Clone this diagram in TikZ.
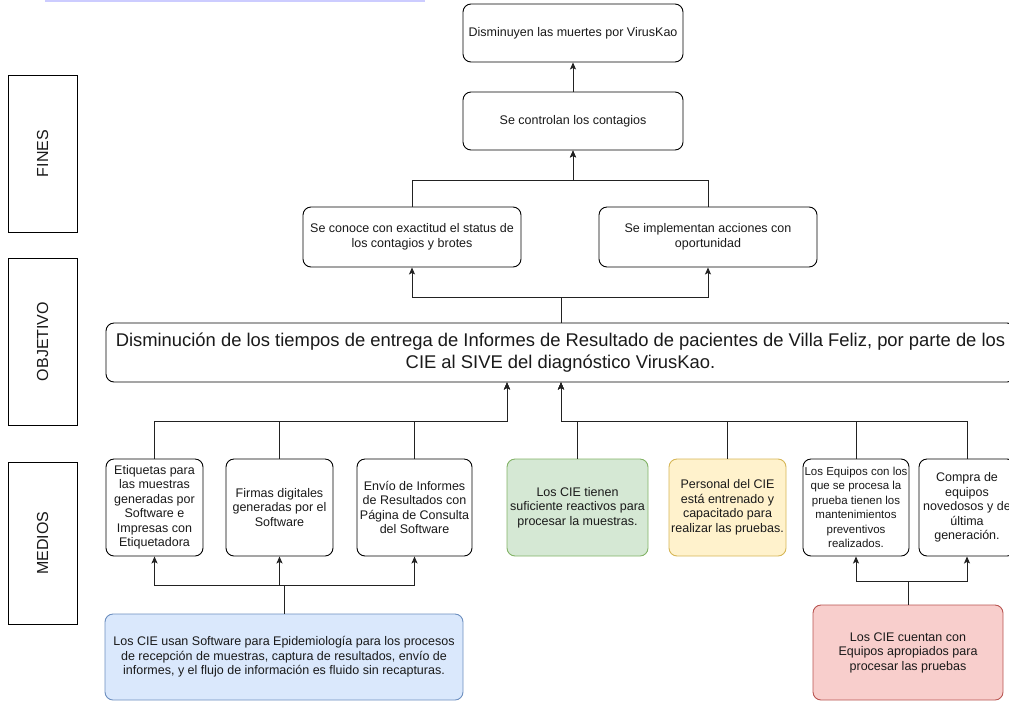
\documentclass[tikz,border=0pt]{standalone}
\usepackage{fontspec}
\setmainfont{Liberation Sans}
\usetikzlibrary{arrows.meta}
\definecolor{bluefill}{HTML}{DAE8FC}
\definecolor{bluedraw}{HTML}{6C8EBF}
\definecolor{greenfill}{HTML}{D5E8D4}
\definecolor{greendraw}{HTML}{82B366}
\definecolor{yellowfill}{HTML}{FFF2CC}
\definecolor{yellowdraw}{HTML}{D6B656}
\definecolor{redfill}{HTML}{F8CECC}
\definecolor{reddraw}{HTML}{B85450}
\definecolor{lav}{HTML}{CCCCFF}
\definecolor{txt}{HTML}{1A1A1A}
\definecolor{edge}{HTML}{222222}
\begin{document}
\begin{tikzpicture}[x=1pt,y=-1pt,
  box/.style={draw=black,line width=0.9pt,rounded corners=8pt,fill=white,align=center,
    inner sep=1pt,text=txt,font=\fontsize{12.5}{14.5}\selectfont},
  sidebox/.style={draw=black,line width=0.9pt,fill=white,minimum width=69pt,
    text=txt,font=\fontsize{16}{18}\selectfont},
  arr/.style={draw=edge,line width=0.9pt,-{Stealth[length=7pt,width=6pt,inset=1.5pt]}},
  ln/.style={draw=edge,line width=0.9pt}]
\useasboundingbox (0,0) rectangle (1009,702);
\clip (0,0) rectangle (1009,702);
% top selection line
\draw[lav,line width=2pt] (45,0.8) -- (425,0.8);
% side labels
\node[sidebox,minimum height=157pt] (lfines) at (42.5,153.5) {\rotatebox{90}{FINES}};
\node[sidebox,minimum height=167pt] (lobj) at (42.5,341.5) {\rotatebox{90}{OBJETIVO}};
\node[sidebox,minimum height=162pt] (lmed) at (42.5,543) {\rotatebox{90}{MEDIOS}};
% fines
\node[box,minimum width=220pt,minimum height=58pt] (top) at (573,33) {Disminuyen las muertes por VirusKao};
\node[box,minimum width=220pt,minimum height=58pt] (ctrl) at (573,121) {Se controlan los contagios};
\node[box,minimum width=218pt,minimum height=60pt] (conoce) at (412,237) {Se conoce con exactitud el status de\\los contagios y brotes};
\node[box,minimum width=218pt,minimum height=60pt] (impl) at (708,237) {Se implementan acciones con\\oportunidad};
% objective
\node[box,minimum width=909pt,minimum height=59pt,font=\fontsize{18.4}{22}\selectfont] (obj) at (560.5,352.5)
  {Disminución de los tiempos de entrega de Informes de Resultado de pacientes de Villa Feliz, por parte de los\\CIE al SIVE del diagnóstico VirusKao.};
% medios
\node[box,minimum width=97pt,minimum height=97pt] (m1) at (154.5,507.5) {Etiquetas para\\las muestras\\generadas por\\Software e\\Impresas con\\Etiquetadora};
\node[box,minimum width=107pt,minimum height=97pt] (m2) at (279.5,507.5) {Firmas digitales\\generadas por el\\Software};
\node[box,minimum width=115pt,minimum height=97pt] (m3) at (414.5,507.5) {Envío de Informes\\de Resultados con\\Página de Consulta\\del Software};
\node[box,draw=greendraw,fill=greenfill,minimum width=141pt,minimum height=97pt] (m4) at (577.5,507.5) {Los CIE tienen\\suficiente reactivos para\\procesar la muestras.};
\node[box,draw=yellowdraw,fill=yellowfill,minimum width=117pt,minimum height=97pt] (m5) at (727.5,507.5) {Personal del CIE\\está entrenado y\\capacitado para\\realizar las pruebas.};
\node[box,minimum width=106pt,minimum height=97pt,font=\fontsize{11.5}{14.5}\selectfont] (m6) at (856,507.5) {Los Equipos con los\\que se procesa la\\prueba tienen los\\mantenimientos\\preventivos\\realizados.};
\node[box,minimum width=96pt,minimum height=97pt] (m7) at (967,507.5) {Compra de\\equipos\\novedosos y de\\última\\generación.};
% bottom causes
\node[box,draw=bluedraw,fill=bluefill,minimum width=358pt,minimum height=86pt] (soft) at (284,657) {Los CIE usan Software para Epidemiología para los procesos\\de recepción de muestras, captura de resultados, envío de\\informes, y el flujo de información es fluido sin recapturas.};
\node[box,draw=reddraw,fill=redfill,minimum width=190pt,minimum height=95pt] (equip) at (908,652.5) {Los CIE cuentan con\\Equipos apropiados para\\procesar las pruebas};
% junctions
\coordinate (j1) at (573,180);
\coordinate (j2) at (561,297);
\coordinate (j3a) at (507,421);
\coordinate (j3b) at (561,421);
\coordinate (j4) at (284,585);
\coordinate (j5) at (908,581);
% connectors
\draw[arr] (ctrl.north) -- (top.south);
\draw[arr] (conoce.north) |- (j1) -- (ctrl.south);
\draw[arr] (impl.north) |- (j1) -- (ctrl.south);
\draw[ln] (j2 |- obj.north) -- (j2);
\draw[arr] (j2) -| (conoce.south);
\draw[arr] (j2) -| (impl.south);
\draw[arr] (m1.north) |- (j3a) -- (j3a |- obj.south);
\draw[arr] (m2.north) |- (j3a) -- (j3a |- obj.south);
\draw[arr] (m3.north) |- (j3a) -- (j3a |- obj.south);
\draw[arr] (m4.north) |- (j3b) -- (j3b |- obj.south);
\draw[arr] (m5.north) |- (j3b) -- (j3b |- obj.south);
\draw[arr] (m6.north) |- (j3b) -- (j3b |- obj.south);
\draw[arr] (m7.north) |- (j3b) -- (j3b |- obj.south);
\draw[ln] (soft.north) -- (j4);
\draw[arr] (j4) -| (m1.south);
\draw[arr] (j4) -| (m2.south);
\draw[arr] (j4) -| (m3.south);
\draw[ln] (equip.north) -- (j5);
\draw[arr] (j5) -| (m6.south);
\draw[arr] (j5) -| (m7.south);
\end{tikzpicture}
\end{document}
